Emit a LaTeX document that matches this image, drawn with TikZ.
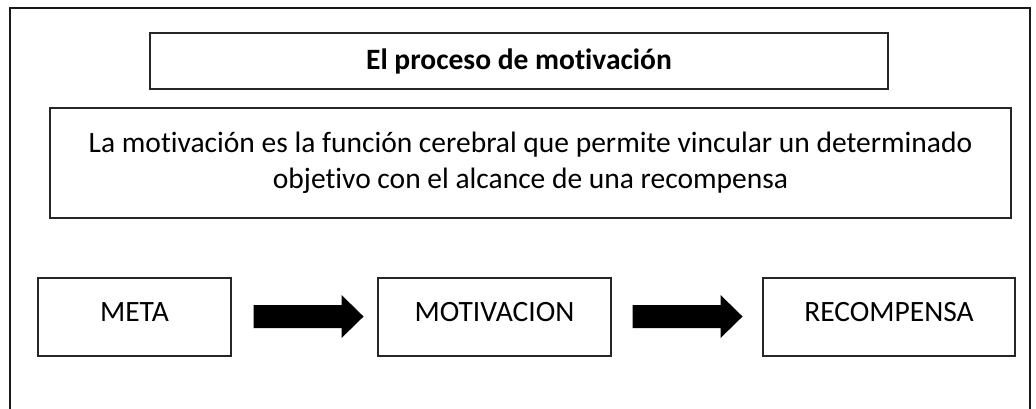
\documentclass[tikz,border=0pt]{standalone}
\usepackage{fontspec}
\setmainfont{Carlito}[Ligatures={NoCommon},RawFeature={-liga}]
\begin{document}
\begin{tikzpicture}[x=1pt,y=-1pt,
  box/.style={draw=black!85,line width=1.1pt,inner sep=0pt,align=center,font=\fontsize{29.5}{36}\selectfont},
  stagebox/.style={box,minimum height=78pt,text height=15pt,text depth=6pt},
  blockarrow/.style={fill=black}]
\useasboundingbox (0,0) rectangle (1036,408);
\clip (0,0) rectangle (1036,408);
\fill[white] (0,0) rectangle (1036,408);
\draw[line width=2.2pt,black!90] (10,420) -- (10,8) -- (1030,8) -- (1030,420);
\node[box,minimum width=738pt,minimum height=56pt] (title) at (519,61) {\bfseries El proceso de motivación};
\node[box,minimum width=961pt,minimum height=110pt] (desc) at (530.5,163) {La motivación es la función cerebral que permite vincular un determinado\\objetivo con el alcance de una recompensa};
\node[stagebox,minimum width=193pt] (meta) at (134.5,317) {META};
\node[stagebox,minimum width=233pt] (motiv) at (494.5,317) {MOTIVACION};
\node[stagebox,minimum width=252pt] (recomp) at (889,317) {RECOMPENSA};
\fill[blockarrow] ([xshift=22pt,yshift=0.5pt]meta.east) ++(0,-11.5) -- ++(88,0) -- ++(0,-10) -- ++(22,21.5) -- ++(-22,21.5) -- ++(0,-10) -- ++(-88,0) -- cycle;
\fill[blockarrow] ([xshift=21pt,yshift=0.5pt]motiv.east) ++(0,-11.5) -- ++(88,0) -- ++(0,-10) -- ++(22,21.5) -- ++(-22,21.5) -- ++(0,-10) -- ++(-88,0) -- cycle;
\end{tikzpicture}
\end{document}
